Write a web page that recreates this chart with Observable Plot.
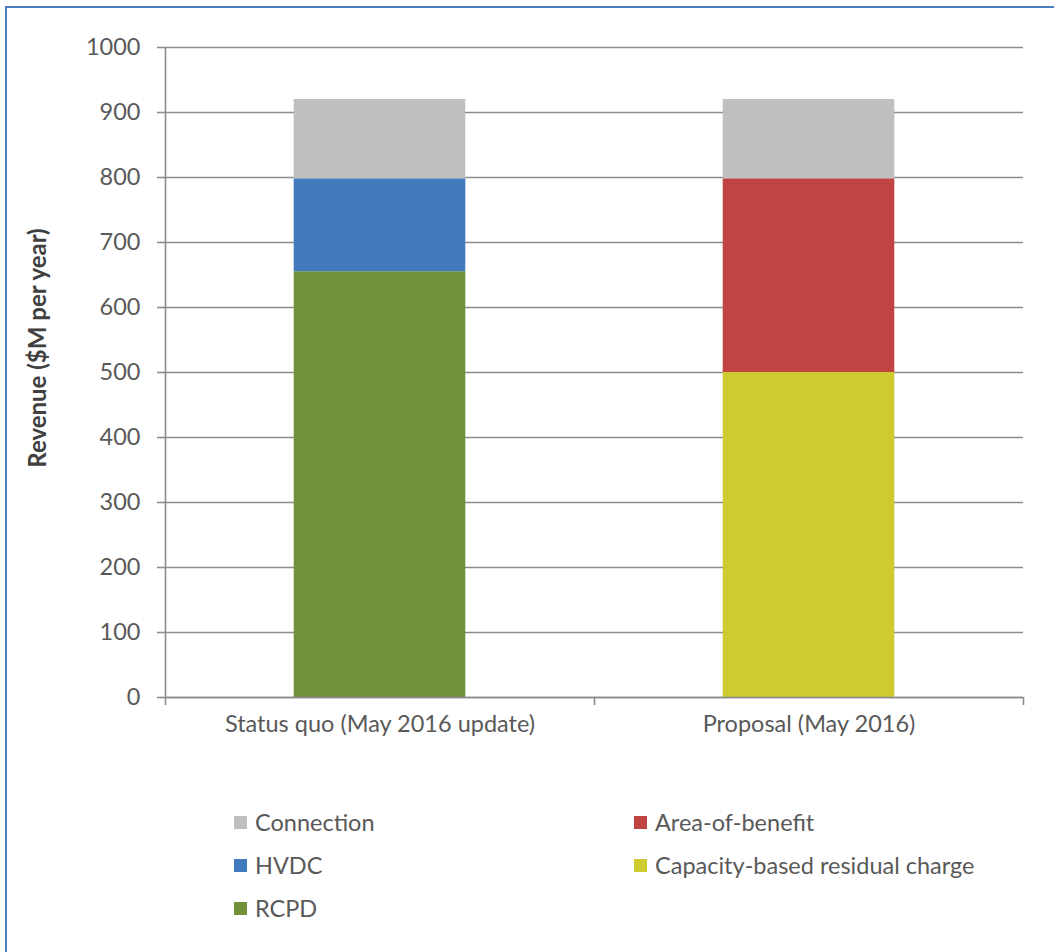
<!DOCTYPE html>
<html>
<head>
<meta charset="utf-8">
<script src="https://cdn.jsdelivr.net/npm/d3@7"></script>
<script src="https://cdn.jsdelivr.net/npm/@observablehq/plot@0.6"></script>
<style>
  html, body { margin: 0; padding: 0; background: #fff; }
  #frame {
    position: relative; width: 1054px; height: 952px; overflow: hidden;
    font-family: Lato, "Open Sans", sans-serif; color: #595959;
  }
  #border {
    position: absolute; left: 5px; top: 6px; width: 1100px; height: 1000px;
    border-top: 2px solid #4a7ebf; border-left: 2px solid #4a7ebf;
  }
  #chart { position: absolute; left: 0; top: 0; }
  #ylabel {
    position: absolute; left: 36px; top: 348px;
    transform: translate(-50%, -50%) rotate(-90deg);
    font-weight: bold; font-size: 24px; white-space: nowrap; color: #404040;
  }
  .legend-item {
    position: absolute; display: flex; align-items: center;
    font-size: 23.5px; white-space: nowrap; color: #595959;
  }
  .legend-item .sw { width: 13px; height: 13px; margin-right: 8px; }
</style>
</head>
<body>
<div id="frame">
  <div id="border"></div>
  <div id="chart"></div>
  <div id="ylabel">Revenue ($M per year)</div>
  <div id="legend"></div>
</div>
<script>
// Categories along the x axis
const categories = ["Status quo (May 2016 update)", "Proposal (May 2016)"];

// Revenue components per scenario, bottom to top ($M per year)
const statusQuoSeries = ["RCPD", "HVDC", "Connection"];
const statusQuoValues = [655, 143, 122];
const proposalSeries = ["Capacity-based residual charge", "Area-of-benefit", "Connection"];
const proposalValues = [500, 298, 122];

// Legend order and colours
const legendSeries = ["Connection", "HVDC", "RCPD", "Area-of-benefit", "Capacity-based residual charge"];
const legendColors = ["#bfbfbf", "#417bbd", "#71913a", "#c04441", "#cdcb2e"];

const yTicks = d3.range(0, 1001, 100);
const barWidth = 0.4; // fraction of each category slot

const rows = [
  ...statusQuoSeries.map((s, i) => ({category: categories[0], series: s, value: statusQuoValues[i]})),
  ...proposalSeries.map((s, i) => ({category: categories[1], series: s, value: proposalValues[i]}))
];
const slot = d => categories.indexOf(d.category);

const chart = Plot.plot({
  width: 1054,
  height: 760,
  marginLeft: 165,
  marginRight: 31,
  marginTop: 47,
  marginBottom: 63,
  style: {fontFamily: "Lato, 'Open Sans', sans-serif", fontSize: "23.5px", color: "#595959", background: "transparent"},
  x: {domain: [0, categories.length], axis: null},
  y: {domain: [0, 1000], axis: null},
  color: {domain: legendSeries, range: legendColors},
  marks: [
    Plot.gridY(yTicks, {stroke: "#8c8c8c", strokeOpacity: 1, strokeWidth: 1.6}),
    Plot.rectY(rows, Plot.stackY({
      x: d => slot(d) + 0.5,
      x1: d => slot(d) + 0.5 - barWidth / 2,
      x2: d => slot(d) + 0.5 + barWidth / 2,
      y: "value",
      fill: "series",
      inset: 0
    })),
    Plot.axisY(yTicks, {
      tickSize: 8, tickPadding: 17, tickFormat: d3.format("d"),
      stroke: "#8c8c8c", strokeWidth: 1.6,
      fill: "#595959", fontSize: 23.5, label: null
    }),
    Plot.ruleX([0], {y1: 0, y2: 1000, stroke: "#8c8c8c", strokeWidth: 1.6}),
    Plot.ruleY([0], {stroke: "#8c8c8c", strokeWidth: 1.6}),
    // tick marks between categories
    Plot.axisX(d3.range(0, categories.length + 1), {
      tickSize: 8, tickFormat: () => "", stroke: "#8c8c8c", strokeWidth: 1.6, label: null
    }),
    // category labels centred in each slot
    Plot.axisX(categories.map((c, i) => i + 0.5), {
      tickSize: 0, tickPadding: 18, tickFormat: v => categories[Math.floor(v)],
      fill: "#595959", fontSize: 23.5, label: null
    })
  ]
});
document.getElementById("chart").appendChild(chart);

// Legend in two columns beneath the chart
const legendPos = [
  {left: 234, top: 822}, {left: 234, top: 865}, {left: 234, top: 908},
  {left: 634, top: 822}, {left: 634, top: 865}
];
const legend = document.getElementById("legend");
legendSeries.forEach((s, i) => {
  const item = document.createElement("div");
  item.className = "legend-item";
  item.style.left = legendPos[i].left + "px";
  item.style.top = (legendPos[i].top - 15) + "px";
  item.style.height = "30px";
  item.innerHTML = `<span class="sw" style="background:${legendColors[i]}"></span><span>${s}</span>`;
  legend.appendChild(item);
});
</script>
</body>
</html>
